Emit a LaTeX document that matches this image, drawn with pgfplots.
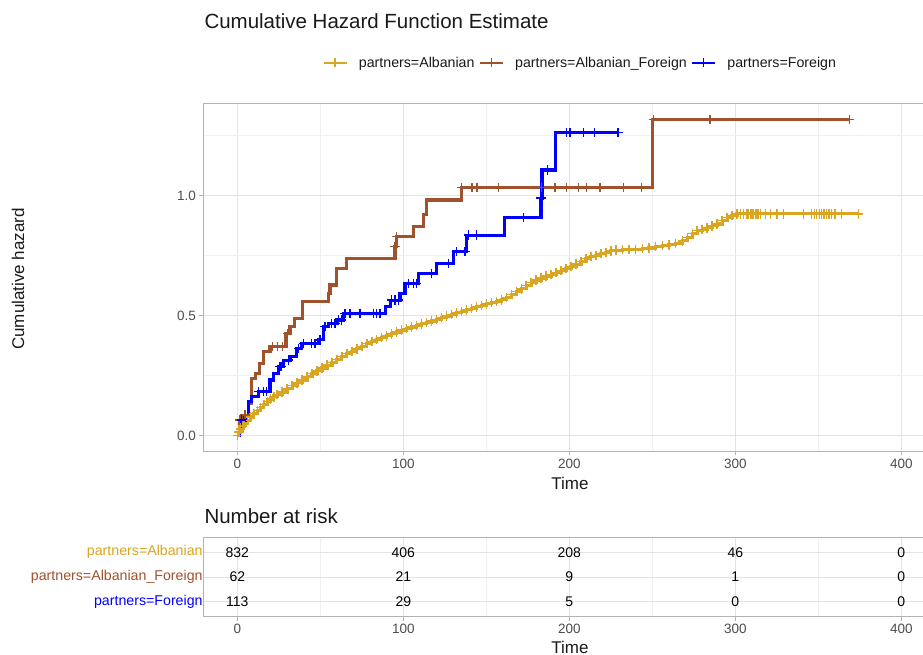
\documentclass[border=0pt]{standalone}
\usepackage{fontspec}
\setmainfont{Liberation Sans}
\usepackage{pgfplots}
\pgfplotsset{compat=1.18}
\definecolor{cA}{HTML}{DAA520}
\definecolor{cAF}{HTML}{A0522D}
\definecolor{cF}{HTML}{0000FF}
\definecolor{tickc}{HTML}{4D4D4D}
\definecolor{borderc}{HTML}{B3B3B3}
\definecolor{gridmaj}{HTML}{E3E3E3}
\definecolor{gridmin}{HTML}{F0F0F0}
\definecolor{txt}{HTML}{1A1A1A}
\newcommand{\fs}[1]{\fontsize{#1}{#1}\selectfont}
\pgfplotsset{
 kmstyle/.style={scale only axis, width=748.7pt, xmin=-20.5, xmax=430.5,
   axis line style={borderc, line width=1.1pt},
   tick align=outside, tick pos=left, major tick length=4pt,
   tick style={borderc, line width=1pt}, minor tick length=0pt,
   grid=both, major grid style={gridmaj, line width=0.9pt},
   minor grid style={gridmin, line width=0.5pt},
   xtick={0,100,200,300,400}, minor xtick={50,150,250,350},
   /pgf/number format/assume math mode=true,
   tick label style={font=\fs{13.5}, text=tickc},
 },
 cens/.style={only marks, mark=+, mark size=4.7pt, mark options={line width=1.4pt}, forget plot},
}
\begin{document}
\begin{tikzpicture}
\useasboundingbox (0,0) rectangle (923pt,655pt);
\fill[white] (0,0) rectangle (923pt,655pt);

\begin{axis}[kmstyle, at={(203.3pt,203.7pt)}, anchor=south west, height=348pt,
  ymin=-0.065, ymax=1.385, ytick={0,0.5,1}, minor ytick={0.25,0.75,1.25},
  yticklabel style={/pgf/number format/.cd, fixed, fixed zerofill, precision=1},
  legend columns=3,
  legend style={at={(0.502,1.116)}, anchor=center, draw=none, fill=none, inner sep=0pt,
    font=\fs{14.2}, text=txt, nodes={inner xsep=0pt, inner ysep=1pt},
    /tikz/every odd column/.append style={column sep=11pt},
    /tikz/every even column/.append style={column sep=4pt}},
  legend image code/.code={\draw[mark repeat=2,mark phase=2,#1] plot coordinates {(0pt,0pt) (11.5pt,0pt) (23pt,0pt)};}
]
% Albanian
\addplot[cA, line width=3.1pt, const plot, mark=+, mark size=4.7pt, mark options={line width=1.4pt}, forget plot] coordinates {
(0,0) (1,0.015) (2,0.028) (3,0.04) (4,0.05) (6,0.063) (8,0.078) (10,0.092) (12,0.105) (14,0.118)
(16,0.13) (18,0.142) (20,0.153) (22,0.162) (24,0.172) (27,0.182) (30,0.195) (33,0.208) (36,0.22)
(39,0.232) (42,0.245) (45,0.258) (48,0.27) (51,0.282) (54,0.294) (57,0.306) (60,0.318) (63,0.33)
(66,0.342) (69,0.352) (72,0.362) (75,0.372) (78,0.383) (81,0.392) (84,0.4) (87,0.408) (90,0.416)
(93,0.424) (96,0.432) (99,0.44) (102,0.447) (105,0.453) (108,0.46) (111,0.466) (114,0.472)
(117,0.478) (120,0.485) (123,0.492) (126,0.498) (129,0.505) (132,0.512) (135,0.518) (138,0.524)
(141,0.53) (144,0.537) (147,0.543) (150,0.549) (153,0.555) (156,0.56) (159,0.566) (162,0.575)
(165,0.588) (168,0.6) (171,0.612) (174,0.626) (177,0.638) (180,0.648) (183,0.657) (186,0.665)
(189,0.672) (192,0.68) (195,0.688) (198,0.697) (201,0.705) (204,0.715) (207,0.727) (210,0.738)
(213,0.746) (216,0.752) (219,0.758) (222,0.764) (225,0.77) (228,0.773) (232,0.775) (236,0.776)
(240,0.777) (244,0.779) (248,0.782) (252,0.788) (256,0.792) (260,0.795) (264,0.802) (268,0.812)
(271,0.825) (274,0.842) (277,0.855) (280,0.86) (283,0.866) (286,0.874) (289,0.882) (292,0.896)
(295,0.91) (298,0.918) (301,0.924) (303,0.924) (305,0.924) (307,0.924) (308,0.924) (309,0.924)
(310,0.924) (311,0.924) (312,0.924) (313,0.924) (314,0.924) (315,0.924) (318,0.924) (321,0.924)
(325,0.924) (329,0.924) (341,0.924) (346,0.924) (347.5,0.924) (349,0.924) (350.5,0.924)
(352,0.924) (353.5,0.924) (355,0.924) (356.5,0.924) (358,0.924) (360,0.924) (364,0.924) (374,0.924)
};
% Albanian_Foreign
\addplot[cAF, line width=3.1pt, const plot, forget plot] coordinates {
(0,0) (1.2,0.065) (2.6,0.086) (6.6,0.135) (8.6,0.239) (11,0.26) (13.3,0.30) (15.7,0.35)
(19.7,0.371) (29.3,0.427) (31.7,0.454) (34.7,0.489) (39.4,0.558) (54.8,0.593) (55.8,0.628)
(59.8,0.697) (65.9,0.739) (95,0.788) (96,0.829) (106,0.871) (112,0.92) (114,0.982)
(135.1,1.035) (250.2,1.318) (369,1.318)
};
\addplot[cAF, cens] coordinates {
(1.2,0.065) (4.6,0.086) (21.3,0.371) (24.1,0.371) (27.3,0.371) (30.1,0.427) (95,0.788) (96,0.829)
(135.1,1.035) (141.3,1.035) (144.3,1.035) (157.3,1.035) (183.3,1.035) (191.4,1.035) (198.4,1.035)
(205.4,1.035) (210.5,1.035) (218.5,1.035) (232.5,1.035) (243.5,1.035) (250.6,1.318) (284.8,1.318)
(368.7,1.318)
};
% Foreign
\addplot[cF, line width=3.1pt, const plot, forget plot] coordinates {
(0,0) (1.2,0.031) (2.6,0.065) (4.6,0.086) (6.6,0.142) (8.6,0.163) (12.7,0.183) (19.7,0.232)
(21.7,0.26) (24.7,0.288) (27.7,0.315) (31.7,0.329) (35.7,0.364) (38.8,0.385) (48.8,0.399)
(51.8,0.454) (54.8,0.468) (59.8,0.482) (63.9,0.51) (89,0.538) (92,0.565) (98,0.593) (101,0.635)
(109,0.677) (120,0.718) (130,0.767) (138.1,0.836) (160.7,0.908) (182.9,0.99) (183.5,1.107)
(191.4,1.264) (230,1.264)
};
\addplot[cF, cens] coordinates {
(2.6,0.065) (12.7,0.183) (15.7,0.183) (17.7,0.183) (25.7,0.288) (26.7,0.288) (30.7,0.315)
(36.7,0.364) (39.8,0.385) (44.8,0.385) (46.8,0.385) (49.8,0.399) (52.8,0.454) (56.8,0.468)
(58.8,0.468) (60.8,0.482) (62.9,0.482) (64.9,0.51) (67.9,0.51) (73.9,0.51) (81.9,0.51) (83.9,0.51)
(85.9,0.51) (93,0.565) (95,0.565) (97,0.565) (103.2,0.635) (106,0.635) (108,0.635) (117,0.677)
(127.1,0.718) (132.1,0.767) (137.1,0.767) (139.2,0.836) (144.2,0.836) (172.3,0.908) (182.9,0.99)
(187,1.107) (198.4,1.264) (200.4,1.264) (208.6,1.264) (215.3,1.264) (229.4,1.264)
};
\addlegendimage{cA, line width=2.6pt, mark=+, mark size=4.5pt, mark options={line width=1.4pt}}
\addlegendentry{partners=Albanian}
\addlegendimage{cAF, line width=2.6pt, mark=+, mark size=4.5pt, mark options={line width=1.4pt}}
\addlegendentry{partners=Albanian\_Foreign}
\addlegendimage{cF, line width=2.6pt, mark=+, mark size=4.5pt, mark options={line width=1.4pt}}
\addlegendentry{partners=Foreign}
\end{axis}

\begin{axis}[kmstyle, at={(203.3pt,38.3pt)}, anchor=south west, height=79.4pt,
  ymin=0.4, ymax=3.6, ytick={1,2,3}, minor ytick={},
  yticklabels={\textcolor{cF}{partners=Foreign},\textcolor{cAF}{partners=Albanian\_Foreign},\textcolor{cA}{partners=Albanian}},
  ytick style={draw=none},
  yticklabel style={font=\fs{14.2}, xshift=3.5pt, inner xsep=0pt}]
\addplot[only marks, mark=*, mark size=0pt, mark options={draw=none, fill=none},
  nodes near coords, point meta=explicit symbolic,
  every node near coord/.append style={anchor=center, font=\fs{14}, text=black, inner sep=0pt}]
  table[meta=n] {
x y n
0 3 832
100 3 406
200 3 208
300 3 46
400 3 0
0 2 62
100 2 21
200 2 9
300 2 1
400 2 0
0 1 113
100 1 29
200 1 5
300 1 0
400 1 0
};
\end{axis}

\node[anchor=base west, inner sep=0pt, font=\fs{20.5}, text=txt] at (204.3pt,626.7pt) {Cumulative Hazard Function Estimate};
\node[rotate=90, font=\fs{17}, text=txt] at (18pt,376pt) {Cumulative hazard};
\node[font=\fs{17}, text=txt] at (570pt,172pt) {Time};
\node[anchor=base west, inner sep=0pt, font=\fs{20.5}, text=txt] at (204.3pt,131pt) {Number at risk};
\node[font=\fs{17}, text=txt] at (570pt,8pt) {Time};
\end{tikzpicture}
\end{document}
